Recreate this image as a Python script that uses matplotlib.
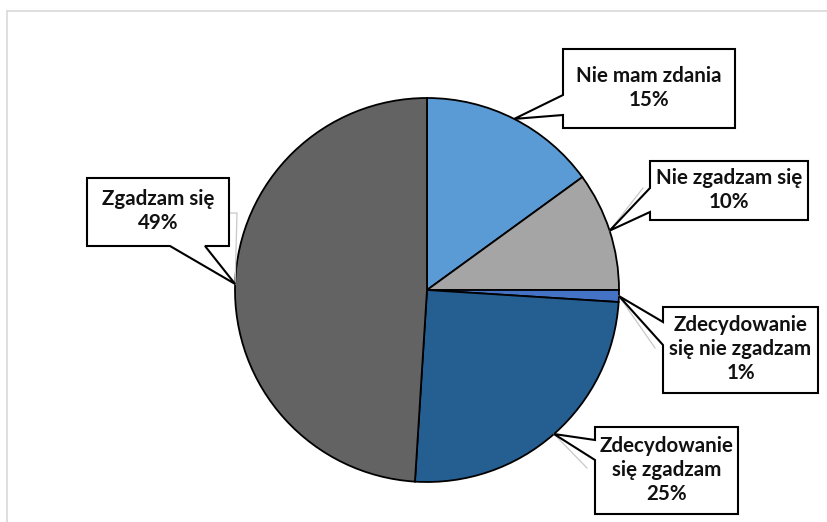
import matplotlib
matplotlib.use("Agg")
import matplotlib.pyplot as plt
from matplotlib.patches import Polygon
import numpy as np

# Survey answers (percent), clockwise from 12 o'clock
categories = ["Nie mam zdania", "Nie zgadzam się", "Zdecydowanie\nsię nie zgadzam",
              "Zdecydowanie\nsię zgadzam", "Zgadzam się"]
values = [15, 10, 1, 25, 49]
colors = ["#5B9BD5", "#A5A5A5", "#4472C4", "#255E91", "#636363"]

W, H = 827, 522
fig = plt.figure(figsize=(W / 100, H / 100), dpi=100)
ax = fig.add_axes([0, 0, 1, 1])

def py(y):
    # pixel row (top-down) -> data y (bottom-up)
    return H - y

cx, cy, r = 427, py(290), 192
wedges, _ = ax.pie(values, colors=colors, startangle=90, counterclock=False,
                   center=(cx, cy), radius=r, frame=True,
                   wedgeprops=dict(edgecolor="black", linewidth=1.3))
ax.set_xlim(0, W)
ax.set_ylim(0, H)
ax.set_aspect("equal")
ax.axis("off")

# light chart-area border
ax.plot([7, W], [py(11), py(11)], color="#D9D9D9", lw=1.2, zorder=0)
ax.plot([7, 7], [py(11), 0], color="#D9D9D9", lw=1.2, zorder=0)

def tip_of(w):
    a = np.deg2rad((w.theta1 + w.theta2) / 2)
    return cx + r * np.cos(a), cy + r * np.sin(a)

# callout layout: box (x0, y0, x1, y1) in pixel rows, pointer side and base positions
layout = [
    dict(box=(563, 49, 735, 128), side="left", base=(95, 115), guide=None),
    dict(box=(650, 161, 808, 220), side="left", base=(188, 212), guide=(643, 188)),
    dict(box=(663, 307, 818, 393), side="left", base=(322, 345), guide=(655, 348)),
    dict(box=(595, 427, 738, 514), side="left", base=(440, 460), guide=(587, 468)),
    dict(box=(87, 178, 229, 246), side="bottom", base=(170, 205), guide=(237, 213)),
]

for w, cat, val, lay in zip(wedges, categories, values, layout):
    tx, ty = tip_of(w)
    x0, y0, x1, y1 = lay["box"]
    b1, b2 = lay["base"]
    if lay["guide"] is not None:
        gx, gy = lay["guide"]
        if lay["side"] == "bottom":
            ax.plot([x1, gx, gx, tx], [py(gy), py(gy), py(gy), ty],
                    color="#C8C8C8", lw=0.9, zorder=3)
        else:
            ax.plot([gx, tx], [py(gy), ty], color="#C8C8C8", lw=0.9, zorder=3)
    if lay["side"] == "left":
        pts = [(x0, py(y0)), (x1, py(y0)), (x1, py(y1)), (x0, py(y1)),
               (x0, py(b2)), (tx, ty), (x0, py(b1))]
    else:
        pts = [(x0, py(y0)), (x1, py(y0)), (x1, py(y1)), (b2, py(y1)),
               (tx, ty), (b1, py(y1)), (x0, py(y1))]
    ax.add_patch(Polygon(pts, closed=True, facecolor="white", edgecolor="black",
                         linewidth=1.5, zorder=4, joinstyle="miter"))
    ax.text((x0 + x1) / 2, py((y0 + y1) / 2) + 1, f"{cat}\n{val}%",
            ha="center", va="center", fontsize=14.8, fontweight="bold",
            family=["Lato", "DejaVu Sans"], linespacing=1.25, color="#111111",
            zorder=5)

fig.savefig("out.png", dpi=100)
